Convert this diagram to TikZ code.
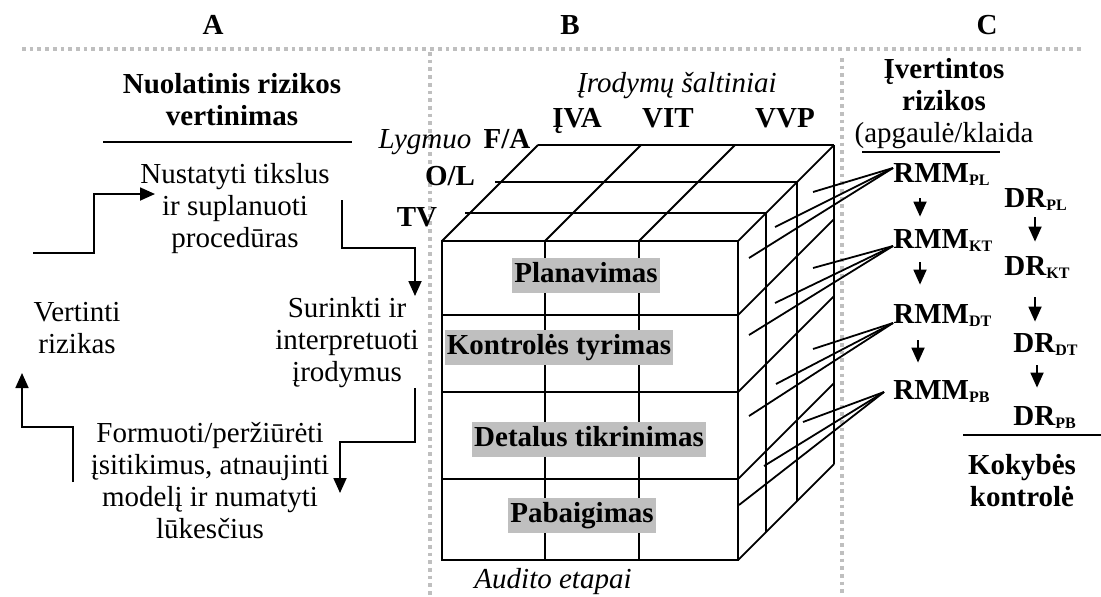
\documentclass[tikz,border=0pt]{standalone}
\usepackage{fontspec}
\setmainfont{Liberation Serif}
\usetikzlibrary{arrows.meta}
\newcommand{\lidx}[1]{\raisebox{-1.5pt}{\fontsize{8}{8}\selectfont #1}}
\tikzset{
  txt/.style={align=center, inner sep=0pt},
  bhd/.style={txt, font=\bfseries},
  stage/.style={font=\bfseries, fill=black!25, inner xsep=1pt, inner ysep=0.5pt, text height=12pt, text depth=4.5pt},
  risk/.style={font=\bfseries, inner sep=0pt, anchor=base west, text height=10pt, text depth=3pt},
  edge/.style={line width=0.9pt},
  arr/.style={line width=0.9pt, -{Triangle[length=7.5pt,width=6.5pt]}},
  divider/.style={black!25, line width=1.85pt, dash pattern=on 1.85pt off 2pt}
}
\begin{document}
\fontsize{14.5}{16}\selectfont
\begin{tikzpicture}[x=0.5pt, y=-0.5pt]
\useasboundingbox (0,0) rectangle (1101,596);
% column dividers
\draw[divider] (22,49) -- (1082,49);
\draw[divider] (430,52) -- (430,596);
\draw[divider] (842,58) -- (842,596);
\node[bhd] (colA) at (213,25) {A};
\node[bhd] (colB) at (570,25) {B};
\node[bhd] (colC) at (987,25) {C};

% A: continuous risk assessment
\node[bhd] (evalHead) at (232,100) {Nuolatinis rizikos\\vertinimas};
\draw[edge] (103,142) -- (352,142);
\node[txt] (setGoals) at (235,209) {Nustatyti tikslus\\ir suplanuoti\\procedūras};
\node[txt] (collect) at (347,343) {Surinkti ir\\interpretuoti\\įrodymus};
\node[txt] (assess) at (77,328) {Vertinti\\rizikas};
\node[txt] (update) at (210,481) {Formuoti/peržiūrėti\\įsitikimus, atnaujinti\\modelį ir numatyti\\lūkesčius};
\coordinate (f1s) at (33,253);  \coordinate (f1e) at (155,194);
\coordinate (f2s) at (342,200); \coordinate (f2e) at (415,296);
\coordinate (f3s) at (415,388); \coordinate (f3e) at (340,493);
\coordinate (f4s) at (73,482);  \coordinate (f4e) at (22,373);
\draw[arr] (f1s) -| (94,194) -- (f1e);
\draw[arr] (f2s) |- (415,248) -- (f2e);
\draw[arr] (f3s) |- (340,442) -- (f3e);
\draw[arr] (f4s) |- (22,427) -- (f4e);

% B: the cube
\draw[edge] (442,241) rectangle (738,560);
\foreach \y in {315,392,479} \draw[edge] (442,\y) -- (738,\y);
\foreach \x in {545,639} \draw[edge] (\x,241) -- (\x,560);
\foreach \x in {442,545,639,738} \draw[edge] (\x,241) -- ++(96,-96);
\draw[edge] (465,213) -- (766,213);
\draw[edge] (495,182) -- (797,182);
\draw[edge] (538,145) -- (834,145);
\foreach \y in {315,392,479,560} \draw[edge] (738,\y) -- ++(96,-96);
\draw[edge] (766,213) -- (766,532);
\draw[edge] (797,182) -- (797,501);
\draw[edge] (834,145) -- (834,464);

\node[anchor=base, inner sep=0pt, font=\itshape] (srcHead) at (677,92) {Įrodymų šaltiniai};
\node[anchor=base, inner sep=0pt, font=\bfseries] (srcIVA) at (577,127) {ĮVA};
\node[anchor=base, inner sep=0pt, font=\bfseries] (srcVIT) at (668,127) {VIT};
\node[anchor=base, inner sep=0pt, font=\bfseries] (srcVVP) at (785,127) {VVP};
\node[anchor=base, inner sep=0pt, font=\itshape] (lvlHead) at (425,148) {Lygmuo};
\node[anchor=base, inner sep=0pt, font=\bfseries] (lvlFA) at (507,148) {F/A};
\node[anchor=base, inner sep=0pt, font=\bfseries] (lvlOL) at (450,185) {O/L};
\node[anchor=base, inner sep=0pt, font=\bfseries] (lvlTV) at (417,226) {TV};

\node[stage] (stPlan) at (586,275) {Planavimas};
\node[stage] (stCtrl) at (559,347) {Kontrolės tyrimas};
\node[stage] (stDet) at (589,439) {Detalus tikrinimas};
\node[stage] (stEnd) at (582,515) {Pabaigimas};
\node[anchor=base, inner sep=0pt, font=\itshape] (stageHead) at (553,588) {Audito etapai};

% C: assessed risks
\node[txt] (riskHead) at (944,104) {\textbf{Įvertintos}\\\textbf{rizikos}\\(apgaulė/klaida};
\draw[edge] (862,152) -- (1000,152);
\node[risk] (rmmPL) at (893,182) {RMM\lidx{PL}};
\node[risk] (rmmKT) at (893,248) {RMM\lidx{KT}};
\node[risk] (rmmDT) at (893,323) {RMM\lidx{DT}};
\node[risk] (rmmPB) at (893,399) {RMM\lidx{PB}};
\node[risk] (drPL) at (1004,207) {DR\lidx{PL}};
\node[risk] (drKT) at (1004,275) {DR\lidx{KT}};
\node[risk] (drDT) at (1013,352) {DR\lidx{DT}};
\node[risk] (drPB) at (1013,425) {DR\lidx{PB}};
\draw[edge] (963,435) -- (1101,435);
\node[bhd] (qcHead) at (1022,481) {Kokybės\\kontrolė};

\draw[arr, shorten <=5pt, shorten >=5.5pt] ([xshift=13.5pt]rmmPL.south west) -- ([xshift=13.5pt]rmmKT.north west);
\draw[arr, shorten <=4pt, shorten >=9pt] ([xshift=13.5pt]rmmKT.south west) -- ([xshift=13.5pt]rmmDT.north west);
\draw[arr, shorten <=5.5pt, shorten >=8pt] ([xshift=12.5pt]rmmDT.south west) -- ([xshift=12.5pt]rmmPB.north west);
\draw[arr, shorten <=2pt, shorten >=6.5pt] ([xshift=15.5pt]drPL.south west) -- ([xshift=15.5pt]drKT.north west);
\draw[arr, shorten <=8pt, shorten >=5pt] ([xshift=15.5pt]drKT.south west) -- ([xshift=11pt]drDT.north west);
\draw[arr, shorten <=3.5pt, shorten >=8.5pt] ([xshift=12pt]drDT.south west) -- ([xshift=12pt]drPB.north west);

% risks traced back to the cube face
\coordinate (pl1) at (813,192); \coordinate (pl2) at (775,227); \coordinate (pl3) at (749,258);
\coordinate (kt1) at (813,268); \coordinate (kt2) at (775,303); \coordinate (kt3) at (749,335);
\coordinate (dt1) at (813,349); \coordinate (dt2) at (776,384); \coordinate (dt3) at (749,416);
\coordinate (pb1) at (803,422); \coordinate (pb2) at (764,466); \coordinate (pb3) at (739,505);
\foreach \p in {pl1,pl2,pl3} \draw[edge] ([yshift=7pt]rmmPL.base west) -- (\p);
\foreach \p in {kt1,kt2,kt3} \draw[edge] ([yshift=1pt]rmmKT.base west) -- (\p);
\foreach \p in {dt1,dt2,dt3} \draw[edge] (rmmDT.base west) -- (\p);
\foreach \p in {pb1,pb2,pb3} \draw[edge] ([xshift=-4.5pt,yshift=3.5pt]rmmPB.base west) -- (\p);
\end{tikzpicture}
\end{document}
